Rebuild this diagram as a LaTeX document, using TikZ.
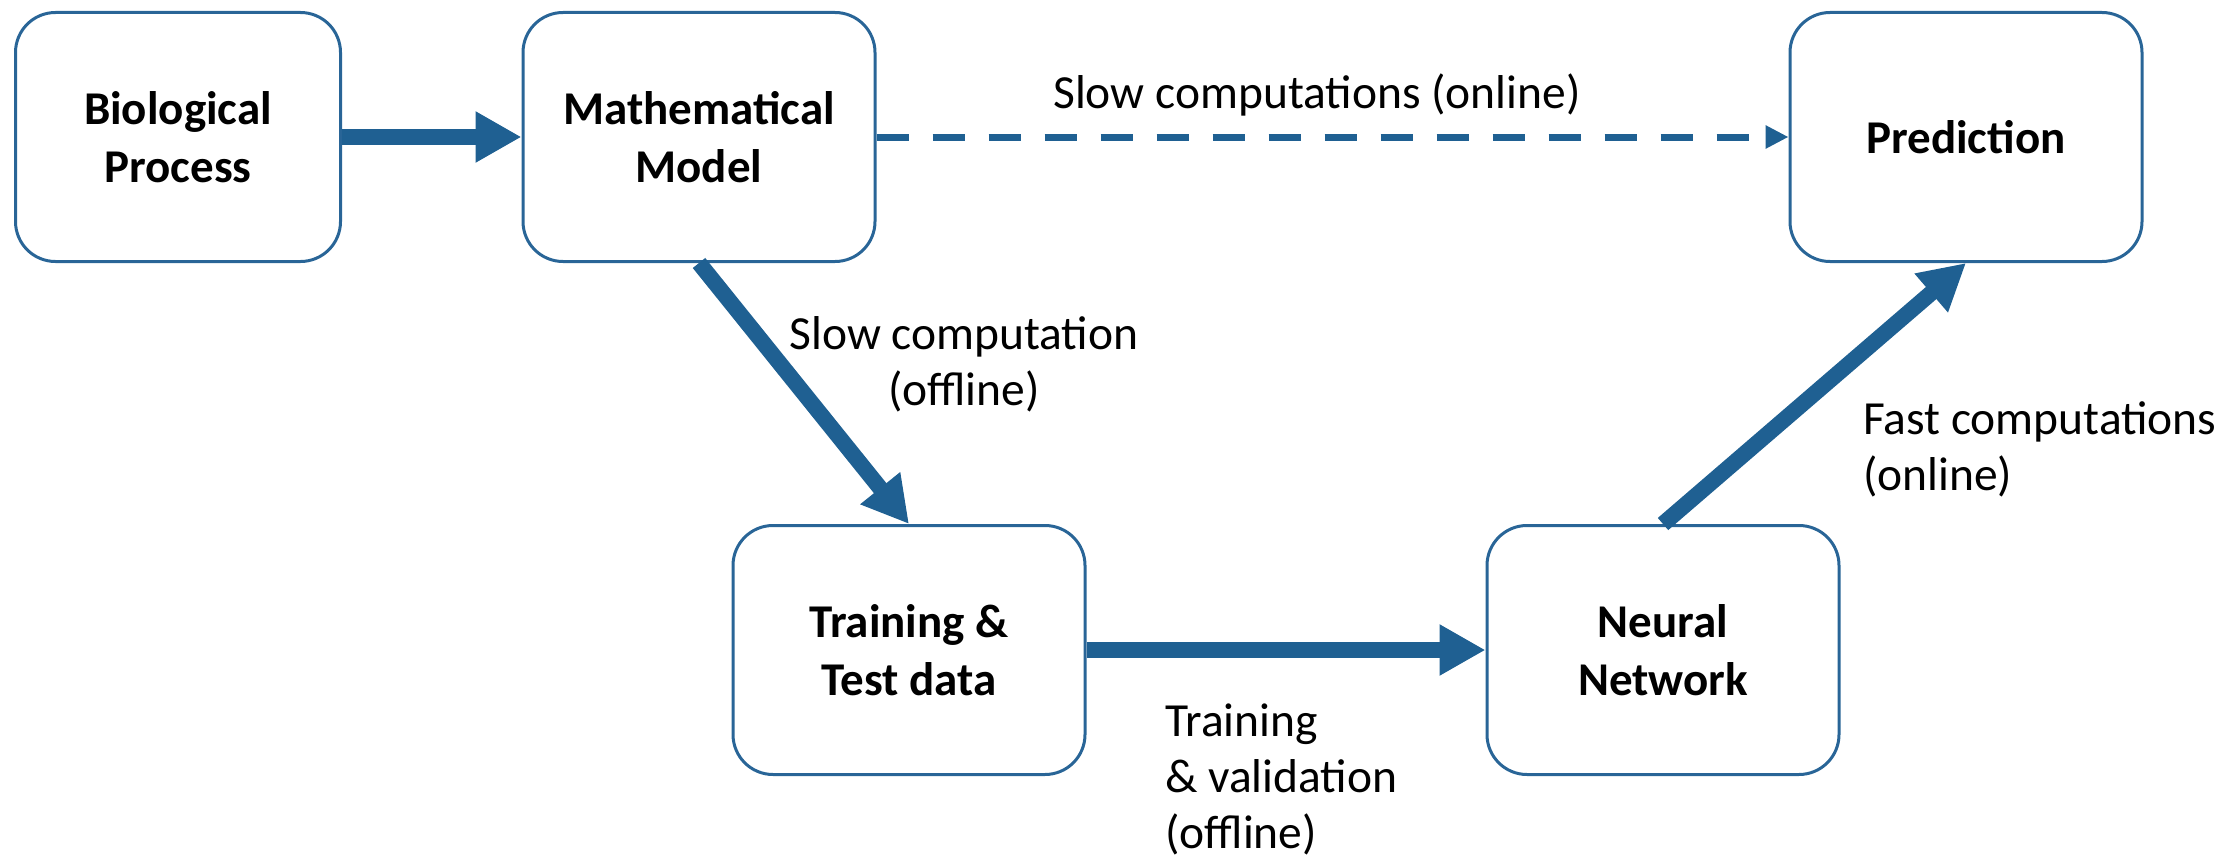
\documentclass[tikz,border=0pt]{standalone}
\usepackage{fontspec}
\setmainfont{Carlito}
\usetikzlibrary{arrows.meta}
\definecolor{arrowblue}{RGB}{31,96,146}
\definecolor{boxblue}{RGB}{41,101,151}
\begin{document}
\begin{tikzpicture}[x=1pt,y=-1pt,
  box/.style={draw=boxblue, line width=3pt, rounded corners=40pt, minimum width=352pt, minimum height=249pt, align=center, font=\fontsize{47}{58}\selectfont\bfseries, inner sep=0pt},
  lbl/.style={font=\fontsize{47.5}{56}\selectfont, inner sep=0pt},
  bigarrow/.style={draw=arrowblue, line width=16pt, -{Triangle[length=46pt,width=48pt]}},
  dasharrow/.style={draw=arrowblue, line width=7pt, dash pattern=on 32pt off 24pt, -{Triangle[length=23pt,width=22pt]}}
]
\useasboundingbox (0,0) rectangle (2233,859);
\node[box, minimum width=325pt] (bio) at (178,137) {Biological\\Process};
\node[box] (math) at (699,137) {Mathematical\\Model};
\node[box] (pred) at (1966,137) {Prediction};
\node[box] (train) at (909,650) {Training \&\\Test data};
\node[box] (nn) at (1663,650) {Neural\\Network};

\draw[bigarrow] (bio) -- (math);
\draw[dasharrow] (math) -- (pred);
\draw[bigarrow] (math.south) -- (train.north);
\draw[bigarrow] (train) -- (nn);
\draw[bigarrow] (nn.north) -- (pred.south);

\node[lbl] (l1) at (1317,95) {Slow computations (online)};
\node[lbl, align=center] (l2) at (964,364) {Slow computation\\(offline)};
\node[lbl, align=left, anchor=west] (l3) at (1165,779) {Training\\\& validation\\(offline)};
\node[lbl, align=left, anchor=west] (l4) at (1863,449) {Fast computations\\(online)};
\end{tikzpicture}
\end{document}
